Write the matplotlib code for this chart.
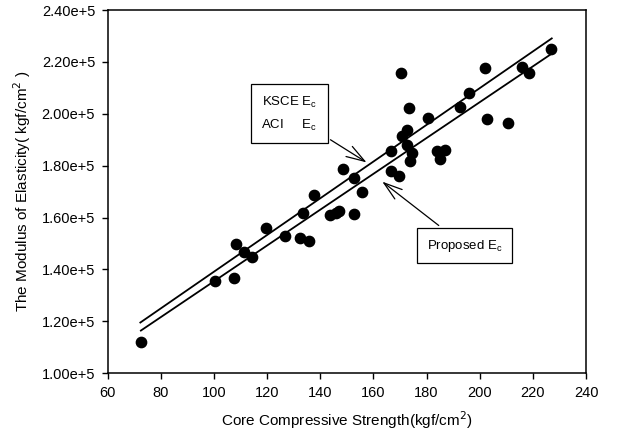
import matplotlib
matplotlib.use("Agg")
from matplotlib import pyplot as plt
from matplotlib.ticker import FuncFormatter

plt.rcParams['font.family'] = ['Liberation Sans', 'DejaVu Sans']

# measured points (core strength, modulus)
strength = [72.5, 100.4, 107.4, 108.4, 111.4, 114.5, 119.6, 126.6, 132.4, 133.4,
            135.7, 137.5, 143.6, 146.0, 147.0, 148.7, 152.6, 152.6, 155.7, 166.5,
            166.5, 169.7, 170.4, 170.8, 172.5, 172.5, 173.5, 173.8, 174.6, 180.7,
            184.0, 186.8, 185.0, 192.6, 195.8, 201.8, 202.7, 210.8, 215.8, 218.6,
            226.9]
modulus = [1.119e5, 1.357e5, 1.365e5, 1.498e5, 1.468e5, 1.447e5, 1.560e5, 1.530e5, 1.523e5, 1.619e5,
           1.511e5, 1.687e5, 1.610e5, 1.618e5, 1.625e5, 1.787e5, 1.751e5, 1.615e5, 1.699e5, 1.858e5,
           1.781e5, 1.762e5, 2.159e5, 1.914e5, 1.938e5, 1.880e5, 2.021e5, 1.819e5, 1.848e5, 1.983e5,
           1.857e5, 1.860e5, 1.825e5, 2.025e5, 2.079e5, 2.178e5, 1.980e5, 1.963e5, 2.182e5, 2.156e5,
           2.250e5]

# KSCE / ACI line and proposed line (end points)
ksce_x = [72.3, 227.1]
ksce_y = [1.195e5, 2.291e5]
prop_x = [72.5, 227.5]
prop_y = [1.164e5, 2.235e5]

fig = plt.figure(figsize=(6.37, 4.41), dpi=100)
ax = fig.add_axes([0.169, 0.154, 0.751, 0.823])

ax.plot(ksce_x, ksce_y, color="black", lw=1.3)
ax.plot(prop_x, prop_y, color="black", lw=1.3)
ax.scatter(strength, modulus, s=55, color="black", zorder=3)

ax.set_xlim(60, 240)
ax.set_ylim(1.0e5, 2.4e5)
ax.set_xticks(range(60, 241, 20))
ax.set_yticks([1.0e5 + 0.2e5 * i for i in range(8)])
ax.yaxis.set_major_formatter(FuncFormatter(lambda v, p: "%.2fe+5" % (v / 1e5)))
ax.tick_params(direction="out", length=4, width=1, labelsize=10.5, colors="black", pad=5)
for sp in ax.spines.values():
    sp.set_linewidth(1.1)

ax.set_xlabel("Core Compressive Strength(kgf/cm$^2$)", fontsize=11, labelpad=7)
ax.set_ylabel("The Modulus of Elasticity( kgf/cm$^2$ )", fontsize=11, labelpad=6)

box = dict(boxstyle="square,pad=0.8", fc="white", ec="black", lw=0.9)
arrow = dict(arrowstyle="->,head_length=1.4,head_width=0.45", color="black", lw=0.9)
ax.annotate("KSCE E$_\\mathregular{c}$\nACI     E$_\\mathregular{c}$", xy=(158.3, 1.807e5),
            xytext=(128.3, 2.0e5), ha="center", va="center", fontsize=9.5,
            bbox=box, linespacing=1.7, arrowprops=arrow)
ax.annotate("Proposed E$_\\mathregular{c}$", xy=(162.5, 1.745e5),
            xytext=(194.3, 1.492e5), ha="center", va="center", fontsize=9.5,
            bbox=dict(boxstyle="square,pad=0.75", fc="white", ec="black", lw=0.9),
            arrowprops=arrow)

fig.savefig("out.png", dpi=100)
